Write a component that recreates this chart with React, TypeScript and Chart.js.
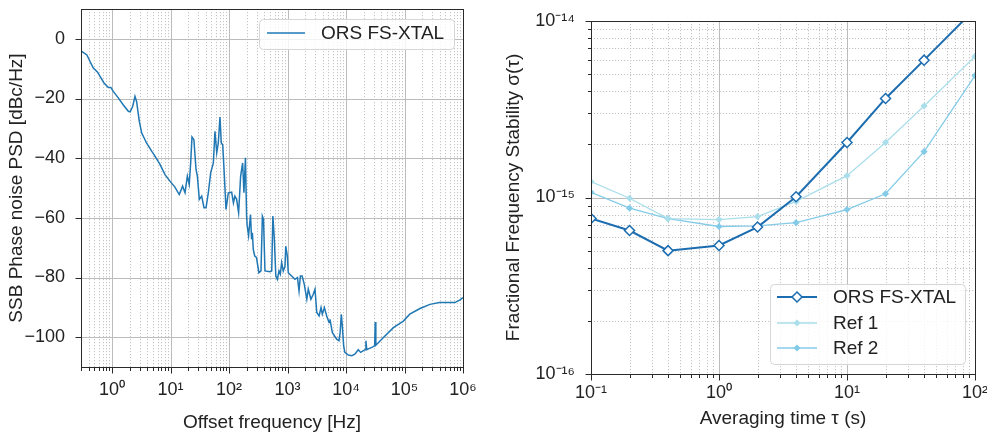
import React, { useEffect, useRef } from 'react';
import { Chart, registerables } from 'chart.js';
Chart.register(...registerables);

const FONT = '"Liberation Sans", Arial, Helvetica, sans-serif';
const TEXT = '#222222';

// ---- Left panel: SSB phase noise PSD ----
const psdFreq = [0.303, 0.372, 0.421, 0.479, 0.562, 0.624, 0.73, 0.865, 0.955, 1.05, 1.28, 1.55, 1.9, 2.04, 2.26, 2.47, 2.63, 2.93, 3.21, 3.89, 4.79, 5.22, 6.61, 8.05, 9.77, 11.9, 14.1, 16.1, 17.7, 19.4, 20.9, 22.1, 23.3, 25.1, 27.3, 28.8, 31.1, 34.1, 37.4, 40.5, 44.3, 48.6, 54, 57.5, 61.7, 65.6, 70.1, 73.8, 78, 82.2, 88.9, 97.3, 111, 119, 126, 135, 146, 158, 171, 180, 191, 200, 204, 216, 233, 243, 251, 260, 275, 295, 324, 352, 372, 389, 412, 501, 537, 562, 596, 631, 670, 716, 753, 794, 847, 906, 933, 993, 1030, 1175, 1343, 1479, 1574, 1660, 1778, 1936, 2138, 2265, 2512, 2754, 2951, 3162, 3467, 3741, 3936, 4266, 4677, 5129, 5321, 5834, 6918, 7586, 7943, 8318, 8650, 9120, 9550, 10960, 12590, 14130, 16220, 17780, 21130, 21880, 22650, 27540, 30900, 31620, 32360, 43650, 64570, 95500, 123000, 184100, 272300, 398100, 724400, 891300, 1000000];
const psdLevel = [-4.2, -5.4, -7.6, -9.8, -11.1, -12.6, -14.8, -16.3, -16.3, -17.6, -19.8, -22.1, -24.3, -24.5, -22.6, -19.3, -21, -27.7, -31.5, -34.9, -37.7, -38.8, -42.1, -45.5, -47.7, -49.7, -52.2, -49.4, -51.6, -46, -48.8, -41.6, -32.9, -33.8, -43.8, -46, -53.8, -52.7, -56.6, -56.6, -51.6, -44.9, -41.6, -31, -38.2, -34.9, -26.2, -34.9, -35.5, -43.8, -57.2, -51.6, -51.4, -55, -52.7, -53.8, -58.3, -46, -41.6, -51.6, -39.9, -59.4, -62.5, -66, -58.9, -67.2, -65, -70.6, -72.8, -73.3, -78.4, -77.8, -59.4, -60.5, -77.8, -78.1, -77.8, -59.4, -67.2, -79.5, -80.6, -77.8, -78.9, -75, -77.8, -76.2, -69.5, -72.8, -78.4, -79.5, -80.6, -80, -84.5, -79.5, -79.5, -82.3, -87.3, -83.9, -87.3, -85.6, -83.9, -91.7, -92.9, -90.1, -92.3, -90.1, -92.9, -95.1, -94, -98.4, -100.7, -101.2, -98.4, -92.3, -96.2, -102.9, -105.1, -106, -106.2, -105.7, -104.2, -105.1, -104.2, -101.2, -104.2, -103.4, -102.9, -94.9, -102.7, -100.1, -96.8, -94.6, -92.3, -90.4, -89, -88.4, -88.4, -87.5, -86.7];
const psdXTicks = [1, 10, 100, 1000, 10000, 100000, 1000000];
const psdYTicks = [-100, -80, -60, -40, -20, 0];

// ---- Right panel: Allan deviation ----
const tau = [0.1, 0.2, 0.4, 1, 2, 4, 10, 20, 40, 100];
const adevORS = [7.6e-16, 6.5e-16, 5.0e-16, 5.35e-16, 6.8e-16, 1.01e-15, 2.05e-15, 3.64e-15, 6.0e-15, 1.17e-14];
const adevRef1 = [1.23e-15, 9.9e-16, 7.6e-16, 7.5e-16, 7.8e-16, 9.5e-16, 1.33e-15, 2.05e-15, 3.3e-15, 6.3e-15];
const adevRef2 = [1.07e-15, 8.7e-16, 7.6e-16, 6.85e-16, 6.9e-16, 7.2e-16, 8.55e-16, 1.05e-15, 1.82e-15, 4.9e-15];
const adevXTicks = [0.1, 1, 10, 100];
const adevYTicks = [1e-16, 1e-15, 1e-14];

const C_ORS = '#1f77b4';
const C_ORS2 = '#1c6db0';
const C_REF1 = '#aadeea';
const C_REF2 = '#84cbe8';

const SUP: Record<string, string> = { '0': '⁰', '1': '¹', '2': '²', '3': '³', '4': '⁴', '5': '⁵', '6': '⁶', '7': '⁷', '8': '⁸', '9': '⁹', '-': '⁻' };
function pow10Label(v: number) {
  const e = Math.round(Math.log10(v));
  return '10' + String(e).split('').map((c) => SUP[c]).join('');
}
function minusLabel(v: number) {
  return v < 0 ? '\u2212' + Math.abs(v) : String(v);
}
function minorLog(min: number, max: number) {
  const out: number[] = [];
  for (let d = Math.floor(Math.log10(min)); d <= Math.ceil(Math.log10(max)); d++) {
    for (let k = 2; k <= 9; k++) {
      const v = k * Math.pow(10, d);
      if (v >= min * 0.999 && v <= max * 1.001) out.push(v);
    }
  }
  return out;
}

type LegendItem = { label: string; color: string; lineWidth: number; marker?: 'open' | 'filled'; r?: number };
type LegendCfg = { anchor: 'tr' | 'br'; w: number; h: number; mx: number; my: number; lineX: number; lineLen: number; textX: number; rowY: number[]; items: LegendItem[] };

function diamond(ctx: CanvasRenderingContext2D, x: number, y: number, r: number, fill: string, stroke: string, lw: number) {
  ctx.beginPath();
  ctx.moveTo(x, y - r);
  ctx.lineTo(x + r, y);
  ctx.lineTo(x, y + r);
  ctx.lineTo(x - r, y);
  ctx.closePath();
  ctx.fillStyle = fill;
  ctx.fill();
  if (lw > 0) {
    ctx.strokeStyle = stroke;
    ctx.lineWidth = lw;
    ctx.stroke();
  }
}

function framePlugin(o: { xMajor: number[]; xMinor: number[]; yMajor: number[]; yMinor: number[]; yMinorTicks: boolean; legend: LegendCfg }) {
  return {
    id: 'frame',
    beforeDatasetsDraw(chart: any) {
      const { ctx, chartArea: a, scales } = chart;
      const x = scales.x, y = scales.y;
      ctx.save();
      ctx.beginPath();
      ctx.rect(a.left, a.top, a.right - a.left, a.bottom - a.top);
      ctx.clip();
      ctx.lineWidth = 1;
      ctx.strokeStyle = '#c4c4c4';
      ctx.setLineDash([1.2, 1.8]);
      ctx.beginPath();
      for (const v of o.xMinor) { const p = Math.round(x.getPixelForValue(v)) + 0.5; ctx.moveTo(p, a.top); ctx.lineTo(p, a.bottom); }
      for (const v of o.yMinor) { const p = Math.round(y.getPixelForValue(v)) + 0.5; ctx.moveTo(a.left, p); ctx.lineTo(a.right, p); }
      ctx.stroke();
      ctx.setLineDash([]);
      ctx.strokeStyle = '#bcbcbc';
      ctx.beginPath();
      for (const v of o.xMajor) { const p = Math.round(x.getPixelForValue(v)) + 0.5; ctx.moveTo(p, a.top); ctx.lineTo(p, a.bottom); }
      for (const v of o.yMajor) { const p = Math.round(y.getPixelForValue(v)) + 0.5; ctx.moveTo(a.left, p); ctx.lineTo(a.right, p); }
      ctx.stroke();
      ctx.restore();
    },
    afterDatasetsDraw(chart: any) {
      const { ctx, chartArea: a, scales } = chart;
      const x = scales.x, y = scales.y;
      const L = Math.round(a.left) + 0.5, R = Math.round(a.right) + 0.5, T = Math.round(a.top) + 0.5, B = Math.round(a.bottom) + 0.5;
      ctx.save();
      ctx.strokeStyle = '#2a2a2a';
      ctx.lineWidth = 1;
      ctx.strokeRect(L, T, R - L, B - T);
      ctx.beginPath();
      for (const v of o.xMajor) { const p = Math.round(x.getPixelForValue(v)) + 0.5; ctx.moveTo(p, B); ctx.lineTo(p, B + 6); }
      for (const v of o.xMinor) { const p = Math.round(x.getPixelForValue(v)) + 0.5; ctx.moveTo(p, B); ctx.lineTo(p, B + 3.5); }
      for (const v of o.yMajor) { const p = Math.round(y.getPixelForValue(v)) + 0.5; ctx.moveTo(L, p); ctx.lineTo(L - 6, p); }
      if (o.yMinorTicks) for (const v of o.yMinor) { const p = Math.round(y.getPixelForValue(v)) + 0.5; ctx.moveTo(L, p); ctx.lineTo(L - 3.5, p); }
      ctx.stroke();

      // legend
      const g = o.legend;
      const bx = a.right - g.mx - g.w;
      const by = g.anchor === 'tr' ? a.top + g.my : a.bottom - g.my - g.h;
      ctx.beginPath();
      ctx.roundRect(bx + 0.5, by + 0.5, g.w, g.h, 4);
      ctx.fillStyle = 'rgba(255,255,255,0.82)';
      ctx.fill();
      ctx.strokeStyle = '#d6d6d6';
      ctx.lineWidth = 1;
      ctx.stroke();
      g.items.forEach((it, i) => {
        const yy = by + g.rowY[i];
        ctx.beginPath();
        ctx.moveTo(bx + g.lineX, yy);
        ctx.lineTo(bx + g.lineX + g.lineLen, yy);
        ctx.strokeStyle = it.color;
        ctx.lineWidth = it.lineWidth;
        ctx.stroke();
        const cx = bx + g.lineX + g.lineLen / 2;
        if (it.marker === 'open') diamond(ctx, cx, yy, it.r || 5, '#ffffff', it.color, 1.5);
        if (it.marker === 'filled') diamond(ctx, cx, yy, it.r || 3.5, it.color, it.color, 0);
        ctx.fillStyle = TEXT;
        ctx.font = `19px ${FONT}`;
        ctx.textBaseline = 'middle';
        ctx.textAlign = 'left';
        ctx.fillText(it.label, bx + g.textX, yy + 1);
      });
      ctx.restore();
    },
  };
}

const tickFont = { family: FONT, size: 18 };
const titleFont = { family: FONT, size: 19 };

export default function App() {
  const c1 = useRef<HTMLCanvasElement>(null);
  const c2 = useRef<HTMLCanvasElement>(null);

  useEffect(() => {
    const psdMin = 0.295, psdMax = 1e6;
    const ch1 = new Chart(c1.current as HTMLCanvasElement, {
      type: 'line',
      data: {
        datasets: [
          {
            label: 'ORS FS-XTAL',
            data: psdFreq.map((f, i) => ({ x: f, y: psdLevel[i] })),
            borderColor: C_ORS,
            borderWidth: 1.5,
            pointRadius: 0,
            tension: 0,
            fill: false,
            clip: 0 as any,
          },
        ],
      },
      options: {
        responsive: false,
        animation: false,
        events: [],
        layout: { padding: { left: 0, right: 24, top: 9, bottom: 0 } },
        plugins: { legend: { display: false }, tooltip: { enabled: false } },
        scales: {
          x: {
            type: 'logarithmic',
            min: psdMin,
            max: psdMax,
            grid: { display: false, drawTicks: false },
            border: { display: false },
            afterBuildTicks: (s: any) => { s.ticks = psdXTicks.map((v) => ({ value: v })); },
            afterFit: (s: any) => { s.height = 68; s.paddingLeft = 0; s.paddingRight = 0; },
            ticks: { autoSkip: false, maxRotation: 0, padding: 12, font: tickFont, color: TEXT, callback: (v: any) => pow10Label(Number(v)) },
            title: { display: true, text: 'Offset frequency [Hz]', font: titleFont, color: TEXT, padding: { top: 0, bottom: 0.8 } },
          },
          y: {
            type: 'linear',
            min: -110,
            max: 10,
            grid: { display: false, drawTicks: false },
            border: { display: false },
            afterBuildTicks: (s: any) => { s.ticks = psdYTicks.map((v) => ({ value: v })); },
            afterFit: (s: any) => { s.width = 81; s.paddingTop = 0; s.paddingBottom = 0; },
            ticks: { autoSkip: false, padding: 16, font: tickFont, color: TEXT, callback: (v: any) => minusLabel(Number(v)) },
            title: { display: true, text: 'SSB Phase noise PSD [dBc/Hz]', font: titleFont, color: TEXT, padding: { top: 5.8, bottom: 0 } },
          },
        },
      },
      plugins: [
        framePlugin({
          xMajor: psdXTicks,
          xMinor: minorLog(psdMin, psdMax),
          yMajor: psdYTicks,
          yMinor: [],
          yMinorTicks: false,
          legend: {
            anchor: 'tr', w: 195, h: 30, mx: 9, my: 10, lineX: 8, lineLen: 38, textX: 62, rowY: [14],
            items: [{ label: 'ORS FS-XTAL', color: C_ORS, lineWidth: 1.5 }],
          },
        }),
      ],
    } as any);

    const tMin = 0.1, tMax = 100, aMin = 1e-16, aMax = 1e-14;
    const ch2 = new Chart(c2.current as HTMLCanvasElement, {
      type: 'line',
      data: {
        datasets: [
          {
            label: 'ORS FS-XTAL',
            data: tau.map((t, i) => ({ x: t, y: adevORS[i] })),
            borderColor: C_ORS2,
            borderWidth: 2,
            pointStyle: 'rectRot',
            pointRadius: 5,
            pointBackgroundColor: '#ffffff',
            pointBorderColor: C_ORS2,
            pointBorderWidth: 1.5,
            tension: 0,
            clip: 0 as any,
          },
          {
            label: 'Ref 1',
            data: tau.map((t, i) => ({ x: t, y: adevRef1[i] })),
            borderColor: C_REF1,
            borderWidth: 1.3,
            pointStyle: 'rectRot',
            pointRadius: 3.6,
            pointBackgroundColor: C_REF1,
            pointBorderColor: C_REF1,
            pointBorderWidth: 0,
            tension: 0,
            clip: 0 as any,
          },
          {
            label: 'Ref 2',
            data: tau.map((t, i) => ({ x: t, y: adevRef2[i] })),
            borderColor: C_REF2,
            borderWidth: 1.3,
            pointStyle: 'rectRot',
            pointRadius: 3.6,
            pointBackgroundColor: C_REF2,
            pointBorderColor: C_REF2,
            pointBorderWidth: 0,
            tension: 0,
            clip: 0 as any,
          },
        ],
      },
      options: {
        responsive: false,
        animation: false,
        events: [],
        layout: { padding: { left: 0, right: 12, top: 21, bottom: 0 } },
        plugins: { legend: { display: false }, tooltip: { enabled: false } },
        scales: {
          x: {
            type: 'logarithmic',
            min: tMin,
            max: tMax,
            grid: { display: false, drawTicks: false },
            border: { display: false },
            afterBuildTicks: (s: any) => { s.ticks = adevXTicks.map((v) => ({ value: v })); },
            afterFit: (s: any) => { s.height = 61; s.paddingLeft = 0; s.paddingRight = 0; },
            ticks: { autoSkip: false, maxRotation: 0, padding: 8.5, font: tickFont, color: TEXT, callback: (v: any) => pow10Label(Number(v)) },
            title: { display: true, text: 'Averaging time τ (s)', font: titleFont, color: TEXT, padding: { top: 0, bottom: 5.2 } },
          },
          y: {
            type: 'logarithmic',
            min: aMin,
            max: aMax,
            grid: { display: false, drawTicks: false },
            border: { display: false },
            afterBuildTicks: (s: any) => { s.ticks = adevYTicks.map((v) => ({ value: v })); },
            afterFit: (s: any) => { s.width = 104; s.paddingTop = 0; s.paddingBottom = 0; },
            ticks: { autoSkip: false, padding: 16, font: tickFont, color: TEXT, callback: (v: any) => pow10Label(Number(v)) },
            title: { display: true, text: 'Fractional Frequency Stability σ(τ)', font: titleFont, color: TEXT, padding: { top: 15.3, bottom: 0 } },
          },
        },
      },
      plugins: [
        framePlugin({
          xMajor: adevXTicks,
          xMinor: minorLog(tMin, tMax),
          yMajor: adevYTicks,
          yMinor: minorLog(aMin, aMax),
          yMinorTicks: true,
          legend: {
            anchor: 'br', w: 195, h: 80, mx: 10, my: 10, lineX: 7, lineLen: 40, textX: 63, rowY: [13, 39, 64],
            items: [
              { label: 'ORS FS-XTAL', color: C_ORS2, lineWidth: 2, marker: 'open', r: 5 },
              { label: 'Ref 1', color: C_REF1, lineWidth: 1.3, marker: 'filled', r: 3.6 },
              { label: 'Ref 2', color: C_REF2, lineWidth: 1.3, marker: 'filled', r: 3.6 },
            ],
          },
        }),
      ],
    } as any);

    return () => {
      ch1.destroy();
      ch2.destroy();
    };
  }, []);

  return (
    <div style={{ position: 'fixed', left: 0, top: 0, width: 987, height: 435, background: '#ffffff', overflow: 'hidden' }}>
      <canvas ref={c1} width={487} height={435} style={{ position: 'absolute', left: 0, top: 0, width: 487, height: 435 }} />
      <canvas ref={c2} width={500} height={435} style={{ position: 'absolute', left: 487, top: 0, width: 500, height: 435 }} />
    </div>
  );
}
